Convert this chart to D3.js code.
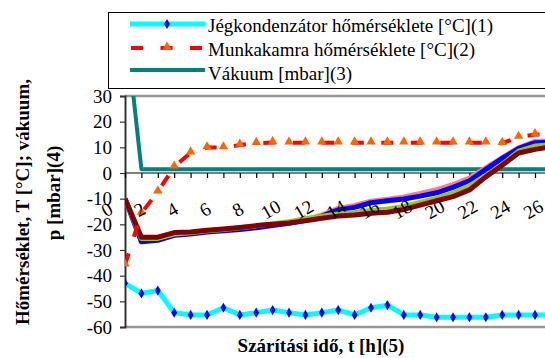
<!DOCTYPE html>
<html><head><meta charset="utf-8">
<script src="https://cdn.jsdelivr.net/npm/d3@7"></script>
</head><body style="margin:0">
<script>
const hours = d3.range(0, 27);
const xTickLabels = ["0","2","4","6","8","10","12","14","16","18","20","22","24","26"];
const yTicks = [30,20,10,0,-10,-20,-30,-40,-50,-60];
const legendLabels = ["Jégkondenzátor hőmérséklete [°C](1)","Munkakamra hőmérséklete [°C](2)","Vákuum [mbar](3)"];
const yTitle1 = "Hőmérséklet, T [°C]; vákuum,";
const yTitle2 = "p [mbar](4)";
const xTitle = "Szárítási idő, t [h](5)";

const jegkondenzator = [-43,-46.9,-45.8,-54.4,-55.3,-55.3,-52.5,-55.3,-54.4,-53.4,-54.4,-55.3,-54.4,-53.4,-55.3,-52.5,-51.5,-55.3,-55.3,-56.2,-56.2,-56.2,-56.2,-55.3,-55.3,-55.3,-55.3];
const munkakamra = [-35.8,-15.6,-7.3,2.4,7.9,9.9,9.9,10.9,11.6,11.9,11.8,11.8,11.8,11.8,11.8,11.8,11.8,11.8,11.8,11.8,11.8,11.8,11.8,11.6,14.0,15.0,15.0];
const vakuum = [60,1.5,1.5,1.5,1.5,1.5,1.5,1.5,1.5,1.5,1.5,1.5,1.5,1.5,1.5,1.5,1.5,1.5,1.5,1.5,1.5,1.5,1.5,1.5,1.5,1.5,1.5];
const termek4 = [-10,-26.2,-25.8,-24,-23.5,-22.8,-22.3,-21.8,-21,-20.2,-19.4,-18.2,-16.4,-13.8,-12.6,-11,-10.2,-9.3,-8,-6.5,-4.5,-2,2,6,9.8,12.3,12.6];
const termek5 = [-10,-26.8,-26.2,-24.3,-23.8,-23,-22.5,-22,-21.3,-20.5,-19.6,-18.4,-16.8,-14.4,-13.4,-11.6,-10.8,-10.1,-9,-7.7,-5.6,-3,1.4,5.7,9.6,11.8,12];
const termek6 = [-10,-25.5,-25.5,-23.8,-23.3,-22.5,-22,-21.3,-20.6,-19.8,-19,-17.8,-16.8,-16,-15.4,-14.6,-14,-13,-11.5,-9.8,-7.8,-5,-1,3.3,8.5,10.5,11];
const termek7 = [-10,-25,-25,-23.2,-23,-22.3,-21.8,-21.2,-20.5,-20,-19.5,-18.6,-17.6,-16.8,-16.4,-15.7,-15.3,-14.2,-12.5,-10.8,-9.2,-6.6,-1.5,3,7.8,9.2,10.2];

const W = 545, H = 358;
const svg = d3.select("body").append("svg").attr("width", W).attr("height", H).style("display", "block");

function T(sel) { return sel.style("font-family", "Liberation Serif", "important"); }

const x = d3.scaleLinear().domain([0, 26]).range([125, 551.4]);
const y = d3.scaleLinear().domain([-60, 30]).range([327, 96]);
const plotRight = 570;

svg.append("line").attr("x1", 125).attr("x2", plotRight).attr("y1", y(30)).attr("y2", y(30))
  .attr("stroke", "#969696").attr("stroke-width", 2.6);
svg.append("line").attr("x1", 125).attr("x2", plotRight).attr("y1", y(-60)).attr("y2", y(-60))
  .attr("stroke", "#969696").attr("stroke-width", 2.6);

// y axis
const yAxis = d3.axisLeft(y).tickValues(yTicks).tickSize(5).tickFormat("");
const gy = svg.append("g").attr("transform", "translate(125,0)").call(yAxis);
gy.select(".domain").attr("stroke", "#333").attr("stroke-width", 2);
gy.selectAll(".tick line").attr("stroke", "#333").attr("stroke-width", 1.2);
gy.selectAll(".tick text").remove();
T(svg.append("g").selectAll("text").data(yTicks).enter().append("text")
  .attr("x", 112).attr("y", d => y(d) + 6.5).attr("text-anchor", "end")
  .attr("font-size", 19).attr("fill", "#000")
  .text(d => d < 0 ? "-" + Math.abs(d) : String(d)));

// x axis at y=0
const xAxis = d3.axisBottom(x).tickValues(hours).tickSize(5).tickFormat("");
const gx = svg.append("g").attr("transform", `translate(0,${y(0)})`).call(xAxis);
gx.select(".domain").attr("d", `M125,0H${plotRight}`).attr("stroke", "#000").attr("stroke-width", 1.2);
gx.selectAll(".tick line").attr("stroke", "#000").attr("stroke-width", 1.2);
gx.selectAll(".tick text").remove();

svg.append("clipPath").attr("id", "clip").append("rect")
  .attr("x", 125).attr("y", y(30)).attr("width", plotRight - 125).attr("height", y(-60) - y(30));
const g = svg.append("g").attr("clip-path", "url(#clip)");

const line = d3.line().x((d, i) => x(hours[i])).y(d => y(d));

function drawLine(data, color, width, dash) {
  const p = g.append("path").datum(data).attr("d", line).attr("fill", "none")
    .attr("stroke", color).attr("stroke-width", width).attr("stroke-linejoin", "round");
  if (dash) p.attr("stroke-dasharray", dash);
}

drawLine(vakuum, "#008080", 4);
drawLine(termek4, "#FF8080", 5);
drawLine(termek5, "#0000FF", 5);
drawLine(termek6, "#99CC00", 5);
drawLine(termek7, "#800000", 5);
drawLine(jegkondenzator, "#00FFFF", 5);
const diamond = d3.symbol().type(d3.symbolDiamond).size(30);
g.selectAll(".dia").data(jegkondenzator).enter().append("path")
  .attr("d", diamond).attr("fill", "#0000FF")
  .attr("transform", (d, i) => `translate(${x(hours[i])},${y(d)})`);
drawLine(munkakamra, "#FF0000", 4, "12,17.5");
const tri = d3.symbol().type(d3.symbolTriangle).size(38);
g.selectAll(".tri").data(munkakamra).enter().append("path")
  .attr("d", tri).attr("fill", "#FF6600")
  .attr("transform", (d, i) => `translate(${x(hours[i])},${y(d) - 1})`);

// x tick labels
T(svg.append("g").selectAll("text").data(xTickLabels).enter().append("text")
  .attr("transform", d => `translate(${x(+d) - 15},215) rotate(-30)`)
  .attr("text-anchor", "middle").attr("font-size", 19).attr("fill", "#000")
  .text(d => d));

// axis titles
T(svg.append("text").attr("transform", "translate(29,202) rotate(-90)")
  .attr("text-anchor", "middle").attr("font-size", 19).attr("font-weight", "bold").text(yTitle1));
T(svg.append("text").attr("transform", "translate(60,193) rotate(-90)")
  .attr("text-anchor", "middle").attr("font-size", 19).attr("font-weight", "bold").text(yTitle2));
T(svg.append("text").attr("x", 321).attr("y", 352)
  .attr("text-anchor", "middle").attr("font-size", 19).attr("font-weight", "bold").text(xTitle));

// legend
const lg = svg.append("g");
lg.append("rect").attr("x", 108.5).attr("y", 12.5).attr("width", 460).attr("height", 76)
  .attr("fill", "#fff").attr("stroke", "#000").attr("stroke-width", 1);
const rows = [24, 48, 70];
const baselines = [32, 56, 80];
lg.append("line").attr("x1", 130).attr("x2", 205).attr("y1", rows[0]).attr("y2", rows[0])
  .attr("stroke", "#00FFFF").attr("stroke-width", 5);
lg.append("path").attr("d", diamond).attr("fill", "#0000FF").attr("transform", `translate(167,${rows[0]})`);
lg.append("line").attr("x1", 131).attr("x2", 205).attr("y1", rows[1]).attr("y2", rows[1])
  .attr("stroke", "#FF0000").attr("stroke-width", 4).attr("stroke-dasharray", "12,17.5");
lg.append("path").attr("d", tri).attr("fill", "#FF6600").attr("transform", `translate(167,${rows[1] - 1})`);
lg.append("line").attr("x1", 130).attr("x2", 205).attr("y1", rows[2]).attr("y2", rows[2])
  .attr("stroke", "#008080").attr("stroke-width", 4);
legendLabels.forEach((t, i) => {
  T(lg.append("text").attr("x", 208).attr("y", baselines[i]).attr("font-size", 19)
    .attr("fill", "#000").text(t));
});
</script>
</body></html>
